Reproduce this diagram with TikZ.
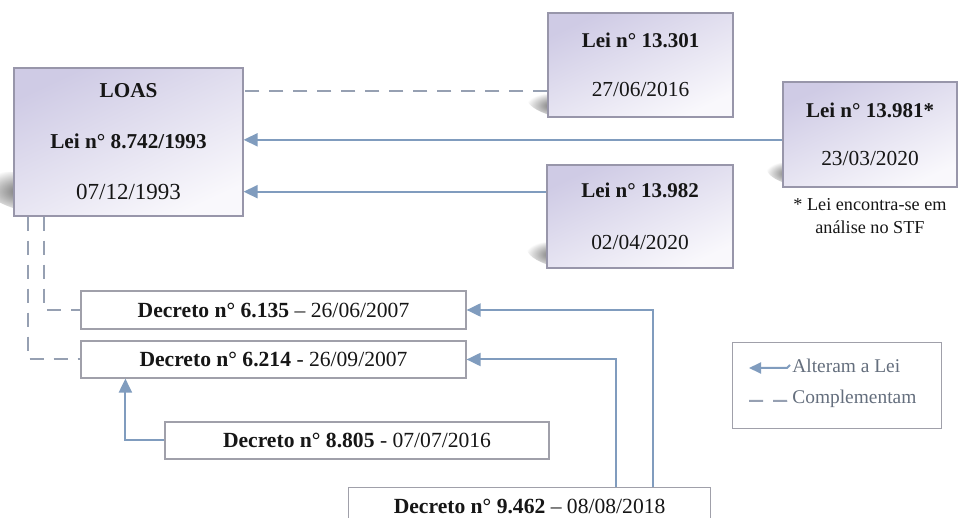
\documentclass[tikz,border=0pt]{standalone}
\usepackage{fontspec}
\setmainfont{Liberation Serif}
\usetikzlibrary{arrows.meta,calc,fadings,backgrounds}

\definecolor{boxedge}{RGB}{152,150,170}
\definecolor{lavtop}{RGB}{207,203,229}
\definecolor{lavbot}{RGB}{249,248,252}
\definecolor{plainedge}{RGB}{160,160,170}
\definecolor{altline}{RGB}{128,156,190}
\definecolor{dashline}{RGB}{150,160,178}
\definecolor{legtext}{RGB}{100,110,125}
\definecolor{ink}{RGB}{22,22,22}

\tikzfading[name=softspot, inner color=transparent!10, outer color=transparent!100]

\begin{document}
\begin{tikzpicture}[x=0.5pt,y=-0.5pt,
  leibox/.style={draw=boxedge, line width=0.6pt, top color=lavtop, bottom color=lavbot,
    shading angle=25, inner sep=0pt, align=center, text=ink},
  decbox/.style={draw=plainedge, line width=0.6pt, fill=white, inner sep=0pt,
    text=ink, font=\fontsize{10.8}{13}\selectfont},
  alters/.style={draw=altline, line width=1pt, -{Triangle[length=7pt,width=6.5pt]}},
  complements/.style={draw=dashline, line width=1pt, dash pattern=on 7pt off 5pt},
  note/.style={inner sep=0pt, text=ink, align=center},
  legendtxt/.style={inner sep=0pt, anchor=west, text=legtext, font=\fontsize{9.7}{12}\selectfont},
  smear/.style={fill=black!65, path fading=softspot}
]
\useasboundingbox (0,0) rectangle (960,518);

% ---- laws ----
\node[leibox, minimum width=114.5pt, minimum height=74pt] (loas) at (128.5,142)
  {\fontsize{10.6}{13}\selectfont\textbf{LOAS}\\[13.5pt]
   \fontsize{10.6}{13}\selectfont\textbf{Lei n° 8.742/1993}\\[13.5pt]
   \fontsize{11.5}{13}\selectfont 07/12/1993};

\node[leibox, minimum width=92.5pt, minimum height=52pt] (l13301) at (640.5,65)
  {\fontsize{10.5}{13}\selectfont\textbf{Lei n° 13.301}\\[12.5pt]
   \fontsize{10.7}{13}\selectfont 27/06/2016};

\node[leibox, minimum width=87pt, minimum height=52.5pt] (l13981) at (870,134.5)
  {\fontsize{10.5}{13}\selectfont\textbf{Lei n° 13.981*}\\[12pt]
   \fontsize{10.7}{13}\selectfont 23/03/2020};

\node[note, font=\fontsize{9.1}{11.8}\selectfont, anchor=north] (footnote) at ($(l13981.south)+(0,10)$)
  {* Lei encontra-se em\\análise no STF};

\node[leibox, minimum width=93pt, minimum height=51.5pt] (l13982) at (640,216.5)
  {\fontsize{10.5}{13}\selectfont\textbf{Lei n° 13.982}\\[14pt]
   \fontsize{10.7}{13}\selectfont 02/04/2020};

% ---- decrees ----
\node[decbox, minimum width=192.5pt, minimum height=19pt] (d6135) at (273.5,310)
  {\textbf{Decreto n° 6.135} – 26/06/2007};
\node[decbox, minimum width=192.5pt, minimum height=18.5pt] (d6214) at (273.5,359.5)
  {\textbf{Decreto n° 6.214} - 26/09/2007};
\node[decbox, minimum width=192pt, minimum height=18.5pt] (d8805) at (357,440.5)
  {\textbf{Decreto n° 8.805} - 07/07/2016};
\node[decbox, minimum width=181pt, minimum height=18.5pt, anchor=north west] (d9462) at (348,487)
  {\textbf{Decreto n° 9.462} – 08/08/2018};

% ---- page and soft shadows behind the law boxes ----
\begin{scope}[on background layer]
  \fill[white] (0,0) rectangle (960,518);
  \fill[smear, rotate around={-15:($(loas.south west)+(4,-26)$)}]
    ($(loas.south west)+(4,-26)$) ellipse [x radius=22pt, y radius=9pt];
  \fill[smear, rotate around={-15:($(l13301.south west)+(4,-13)$)}]
    ($(l13301.south west)+(4,-13)$) ellipse [x radius=14pt, y radius=5pt];
  \fill[smear, rotate around={-15:($(l13981.south west)+(4,-15)$)}]
    ($(l13981.south west)+(4,-15)$) ellipse [x radius=12pt, y radius=5pt];
  \fill[smear, rotate around={-15:($(l13982.south west)+(4,-15)$)}]
    ($(l13982.south west)+(4,-15)$) ellipse [x radius=14pt, y radius=5.5pt];
\end{scope}

% ---- amendments to the LOAS ----
\coordinate (in13981) at ($(l13981.north west)!0.55!(l13981.south west)$);
\draw[alters] (in13981) -- (in13981 -| loas.east);
\coordinate (in13982) at ($(l13982.north west)!0.262!(l13982.south west)$);
\draw[alters] (in13982) -- (in13982 -| loas.east);

% ---- complementary acts ----
\coordinate (in13301) at ($(l13301.north west)!0.75!(l13301.south west)$);
\draw[complements] (in13301) -- (in13301 -| loas.east);
\draw[complements] ($(loas.south west)+(31,0)$) |- (d6135.west);
\draw[complements] ($(loas.south west)+(15,0)$) |- (d6214.west);

% ---- amendments among the decrees ----
\draw[alters] (d8805.west) -| ($(d6214.south west)+(45,0)$);
\draw[alters] ($(d9462.north west)+(305,0)$) |- (d6135.east);
\draw[alters] ($(d9462.north west)+(268,0)$) |- (d6214.east);

% ---- legend ----
\node[draw=plainedge, line width=0.6pt, minimum width=104.5pt, minimum height=43pt,
  anchor=north west, inner sep=0pt] (legend) at (732,342) {};
\coordinate (la) at ($(legend.north west)+(17,26)$);
\coordinate (lb) at ($(la)+(38,0)$);
\draw[draw=altline, line width=1pt, {Triangle[length=6pt,width=5.5pt]}-] (la) -- (lb) -- ++(3,-3);
\node[legendtxt] (legalt) at ($(lb)+(5,-2)$) {Alteram a Lei};
\coordinate (lc) at ($(la)+(0,33)$);
\coordinate (ld) at ($(lc)+(38,0)$);
\draw[complements] (lc) -- (ld) -- ++(3,-3);
\node[legendtxt] (legcomp) at ($(ld)+(5,-2)$) {Complementam};
\end{tikzpicture}
\end{document}
